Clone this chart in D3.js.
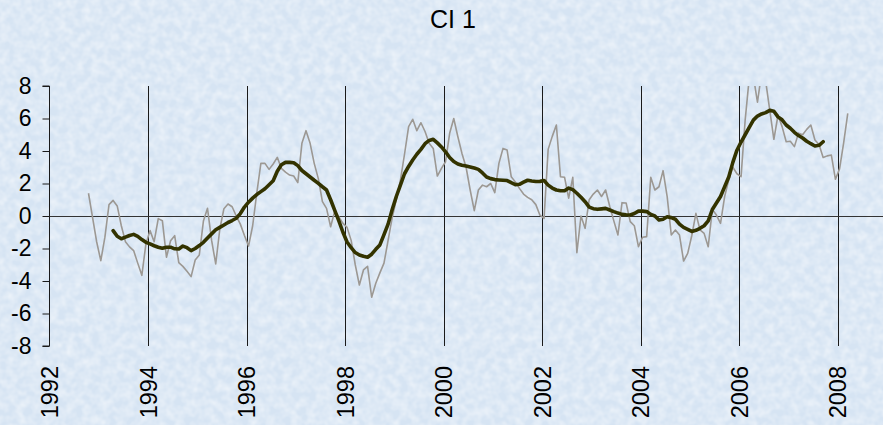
<!DOCTYPE html>
<html>
<head>
<meta charset="utf-8">
<script src="https://cdn.jsdelivr.net/npm/d3@7"></script>
<style>
  html, body { margin: 0; padding: 0; }
  body { width: 883px; height: 425px; overflow: hidden; font-family: "Liberation Sans", Arial, sans-serif; }
</style>
</head>
<body>
<svg id="chart" width="883" height="425"></svg>
<script>
// ---- data ----
const title = "CI 1";
const xTickYears = [1992, 1994, 1996, 1998, 2000, 2002, 2004, 2006, 2008];
const yTickValues = [-8, -6, -4, -2, 0, 2, 4, 6, 8];

// monthly series (gray), first value = October 1992
const rawStartYear = 1992, rawStartMonth = 9;
const rawValues = [
  1.40, -0.10, -1.60, -2.75, -1.30, 0.70, 0.96, 0.62, -0.60, -1.58,
  -1.90, -2.13, -2.90, -3.65, -1.70, -0.90, -1.58, -0.16, -0.29, -2.54,
  -1.52, -1.21, -2.87, -3.10, -3.40, -3.73, -2.71, -2.40, -0.31, 0.47,
  -1.50, -2.95, -0.80, 0.45, 0.74, 0.57, 0.00, -0.50, -1.20, -1.85,
  -0.60, 1.40, 3.24, 3.24, 2.87, 3.20, 3.61, 2.93, 2.70, 2.52,
  2.46, 2.05, 4.47, 5.25, 4.47, 3.24, 2.30, 0.88, 0.47, -0.66,
  0.30, -0.05, -0.45, -0.70, -1.50, -3.00, -4.25, -3.32, -3.10, -5.00,
  -4.14, -3.50, -2.90, -1.50, -0.10, 1.00, 2.20, 3.80, 5.50, 5.95,
  5.25, 5.74, 5.20, 4.47, 4.16, 2.46, 2.93, 3.34, 5.09, 6.00,
  4.88, 3.85, 3.00, 1.60, 0.33, 1.60, 1.90, 1.80, 2.00, 1.44,
  3.24, 4.16, 4.06, 2.42, 2.10, 1.70, 1.35, 1.15, 1.00, 0.70,
  0.05, -0.15, 4.10, 4.90, 5.60, 2.42, 2.38, 1.10, 2.38, -2.26,
  0.00, -0.76, 1.00, 1.35, 1.60, 1.20, 1.60, 0.60, -0.30, -1.17,
  0.82, 0.80, -0.35, -0.60, -1.89, -1.31, -1.27, 2.38, 1.60, 1.80,
  2.79, 1.19, -1.17, -0.86, -1.17, -2.77, -2.30, -1.20, 0.16, -0.86,
  -1.07, -1.89, 0.40, 0.06, -0.45, 1.19, 2.22, 3.00, 2.60, 2.42,
  5.90, 8.50, 8.60, 7.00, 8.80, 8.30, 6.50, 4.72, 6.20, 5.50,
  4.57, 4.60, 4.27, 5.10, 5.00, 5.33, 5.60, 4.68, 4.40, 3.60,
  3.70, 3.75, 2.26, 2.90, 4.50, 6.32
];

// smoothed series (dark), first value = April 1993
const smoothStartYear = 1993, smoothStartMonth = 3;
const smoothValues = [
  -0.90, -1.25, -1.40, -1.30, -1.20, -1.13, -1.25, -1.45, -1.62, -1.72,
  -1.83, -1.92, -1.98, -1.92, -1.92, -2.02, -2.03, -1.85, -1.95, -2.13,
  -2.00, -1.82, -1.62, -1.35, -1.10, -0.85, -0.70, -0.55, -0.40, -0.28,
  -0.14, 0.15, 0.55, 0.85, 1.10, 1.32, 1.50, 1.68, 1.92, 2.17,
  2.75, 3.15, 3.30, 3.30, 3.28, 3.10, 2.80, 2.60, 2.40, 2.20,
  2.01, 1.80, 1.60, 1.00, 0.35, -0.30, -1.00, -1.60, -1.95, -2.25,
  -2.40, -2.48, -2.54, -2.35, -2.05, -1.78, -1.15, -0.50, 0.40, 1.20,
  1.90, 2.60, 3.05, 3.45, 3.80, 4.10, 4.45, 4.65, 4.72, 4.50,
  4.25, 3.95, 3.60, 3.35, 3.20, 3.12, 3.08, 3.02, 2.95, 2.87,
  2.65, 2.40, 2.30, 2.24, 2.22, 2.20, 2.18, 2.05, 1.93, 1.95,
  2.08, 2.20, 2.15, 2.12, 2.13, 2.18, 1.90, 1.72, 1.60, 1.55,
  1.56, 1.72, 1.62, 1.40, 1.15, 0.88, 0.55, 0.45, 0.41, 0.44,
  0.47, 0.37, 0.27, 0.18, 0.10, 0.07, 0.06, 0.15, 0.30, 0.30,
  0.27, 0.10, 0.00, -0.25, -0.20, -0.05, -0.10, -0.20, -0.50, -0.70,
  -0.82, -0.95, -0.88, -0.76, -0.60, -0.30, 0.40, 0.80, 1.20, 1.80,
  2.40, 3.30, 4.05, 4.55, 5.00, 5.45, 5.90, 6.15, 6.28, 6.36,
  6.50, 6.45, 6.10, 5.92, 5.60, 5.40, 5.15, 4.95, 4.80, 4.60,
  4.45, 4.31, 4.35, 4.57
];

// ---- layout ----
const W = 883, H = 425;
const plotLeft = 49.5, plotTop = 86, plotBottom = 346;
const svg = d3.select("#chart");

const x = d3.scaleLinear().domain([1992, 2008]).range([plotLeft, 837.5]);
const y = d3.scaleLinear().domain([-8, 8]).range([plotBottom, plotTop]);

function toSeries(startYear, startMonth, values) {
  return values.map((v, i) => ({ t: startYear + (startMonth + i + 0.5) / 12, v }));
}
const raw = toSeries(rawStartYear, rawStartMonth, rawValues);
const smooth = toSeries(smoothStartYear, smoothStartMonth, smoothValues);

// ---- background texture ----
const defs = svg.append("defs");
const f = defs.append("filter").attr("id", "tex").attr("x", 0).attr("y", 0).attr("width", "100%").attr("height", "100%");
f.append("feTurbulence").attr("type", "fractalNoise").attr("baseFrequency", "0.12").attr("numOctaves", 2).attr("seed", 7).attr("result", "n");
f.append("feColorMatrix").attr("type", "matrix")
  .attr("values", "0 0 0 0 1  0 0 0 0 1  0 0 0 0 1  0.9 0 0 0 -0.28");
defs.append("clipPath").attr("id", "plotClip").append("rect")
  .attr("x", plotLeft).attr("y", plotTop).attr("width", W - plotLeft).attr("height", plotBottom - plotTop);

svg.append("rect").attr("width", W).attr("height", H).attr("fill", "#d6e4f3");
svg.append("rect").attr("width", W).attr("height", H).attr("filter", "url(#tex)");

// ---- title ----
svg.append("text").attr("x", 453).attr("y", 28).attr("text-anchor", "middle")
  .style("font-family", "'Liberation Sans', Arial, sans-serif").style("font-size", "25px").attr("fill", "#000")
  .text(title);

// ---- vertical grid ----
svg.append("g").selectAll("line").data(xTickYears.filter(d => d !== 1992)).join("line")
  .attr("x1", d => Math.round(x(d)) + 0.5).attr("x2", d => Math.round(x(d)) + 0.5)
  .attr("y1", plotTop).attr("y2", plotBottom)
  .attr("stroke", "#1a1a1a").attr("stroke-width", 1);

// ---- y axis ----
const yAxis = d3.axisLeft(y).tickValues(yTickValues).tickSize(7).tickPadding(11).tickFormat(d => String(d));
const gy = svg.append("g").attr("transform", `translate(${plotLeft},0)`).call(yAxis);
gy.select(".domain").attr("stroke", "#1a1a1a").attr("d", `M-7,${y(8)}H0V${y(-8)}H-7`);
gy.selectAll(".tick line").attr("stroke", "#1a1a1a");
gy.selectAll(".tick text").style("font-family", "'Liberation Sans', Arial, sans-serif").style("font-size", "23px").attr("fill", "#000");

// ---- x axis labels (rotated) ----
const xAxis = d3.axisBottom(x).tickValues(xTickYears).tickSize(0).tickFormat(d => String(d));
const gx = svg.append("g").attr("transform", `translate(0,${plotBottom})`).call(xAxis);
gx.select(".domain").remove();
gx.selectAll(".tick text")
  .style("font-family", "'Liberation Sans', Arial, sans-serif").style("font-size", "23.5px").attr("fill", "#000")
  .attr("text-anchor", "end")
  .attr("transform", "translate(0,20) rotate(-90)")
  .attr("x", 0).attr("y", 0).attr("dy", "0.36em");

// ---- zero line ----
svg.append("line").attr("x1", plotLeft).attr("x2", W).attr("y1", Math.round(y(0)) + 0.5).attr("y2", Math.round(y(0)) + 0.5)
  .attr("stroke", "#333").attr("stroke-width", 1.2);

// ---- series ----
const line = d3.line().x(d => x(d.t)).y(d => y(d.v));
const plot = svg.append("g").attr("clip-path", "url(#plotClip)");
plot.append("path").datum(raw).attr("d", line)
  .attr("fill", "none").attr("stroke", "#9c9893").attr("stroke-width", 1.6).attr("stroke-linejoin", "round");
plot.append("path").datum(smooth).attr("d", line)
  .attr("fill", "none").attr("stroke", "#333300").attr("stroke-width", 3.6)
  .attr("stroke-linejoin", "round").attr("stroke-linecap", "round");
</script>
</body>
</html>
